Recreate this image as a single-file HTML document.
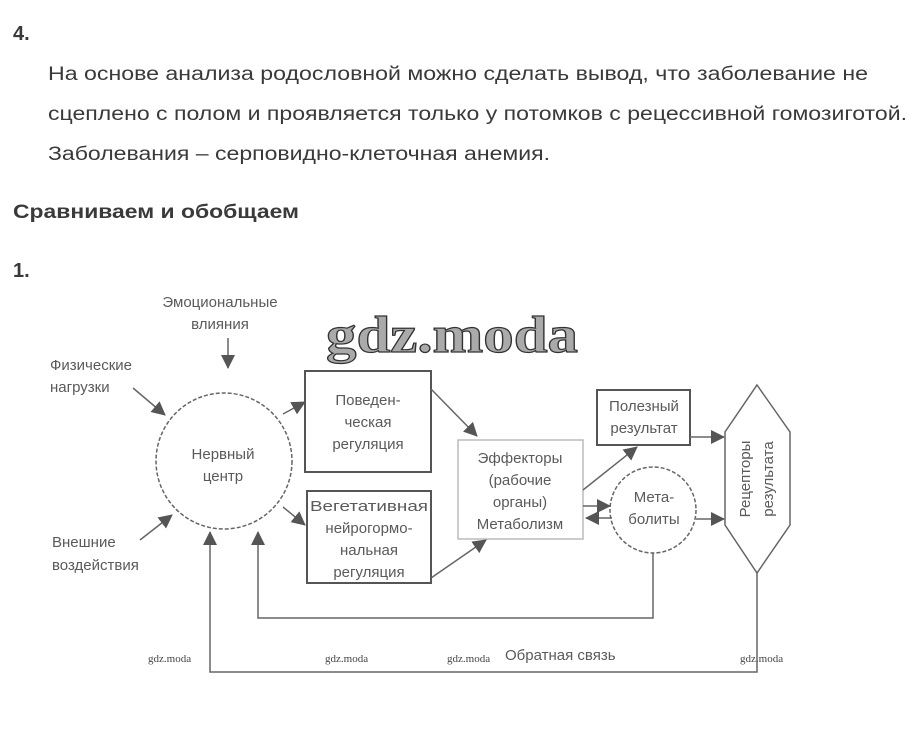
<!DOCTYPE html>
<html><head><meta charset="utf-8"><style>
html,body{margin:0;padding:0;background:#fff;width:912px;height:738px;overflow:hidden}
svg{display:block}
.t{font-family:"Liberation Sans Narrow","Liberation Sans",sans-serif;fill:#3a3a3a}
.d{font-family:"Liberation Sans",sans-serif;fill:#5a5a5a;font-size:15px}
.w{font-family:"Liberation Serif",serif;fill:#444;font-size:11px}
</style></head><body>
<svg width="912" height="738" viewBox="0 0 912 738" xmlns="http://www.w3.org/2000/svg">
<defs><marker id="b" markerWidth="14" markerHeight="14" refX="13" refY="7" orient="auto" markerUnits="userSpaceOnUse"><path d="M0,0 L14,7 L0,14 Z" fill="#555"/></marker></defs>
<text class="t" x="13" y="40" font-size="20" font-weight="bold">4.</text>
<text class="t" x="48" y="80" font-size="19" textLength="820" lengthAdjust="spacingAndGlyphs">На основе анализа родословной можно сделать вывод, что заболевание не</text>
<text class="t" x="48" y="120" font-size="19" textLength="859" lengthAdjust="spacingAndGlyphs">сцеплено с полом и проявляется только у потомков с рецессивной гомозиготой.</text>
<text class="t" x="48" y="160" font-size="19" textLength="502" lengthAdjust="spacingAndGlyphs">Заболевания – серповидно-клеточная анемия.</text>
<text class="t" x="13" y="218" font-size="19" font-weight="bold" textLength="286" lengthAdjust="spacingAndGlyphs">Сравниваем и обобщаем</text>
<text class="t" x="13" y="277" font-size="20" font-weight="bold">1.</text>

<g stroke="#666" stroke-width="1.5" fill="none">
<circle cx="224" cy="461" r="68" stroke-dasharray="4,2"/>
<rect x="305" y="371" width="126" height="101" stroke="#555" stroke-width="2"/>
<rect x="307" y="491" width="124" height="92" stroke="#555" stroke-width="2"/>
<rect x="458" y="440" width="125" height="99" stroke="#bbb"/>
<rect x="597" y="390" width="93" height="55" stroke="#555" stroke-width="2"/>
<circle cx="653" cy="510" r="43" stroke-dasharray="4,2"/>
<polygon points="757,385 790,432 790,525 757,573 725,525 725,432"/>
<polyline points="653,553 653,618 258,618 258,532" marker-end="url(#b)"/>
<polyline points="757,573 757,672 210,672 210,532" marker-end="url(#b)"/>
<line x1="228" y1="338" x2="228" y2="368" marker-end="url(#b)"/>
<line x1="133" y1="388" x2="165" y2="415" marker-end="url(#b)"/>
<line x1="140" y1="540" x2="172" y2="515" marker-end="url(#b)"/>
<line x1="283" y1="414" x2="305" y2="402" marker-end="url(#b)"/>
<line x1="283" y1="507" x2="305" y2="525" marker-end="url(#b)"/>
<line x1="431" y1="389" x2="477" y2="436" marker-end="url(#b)"/>
<line x1="431" y1="578" x2="486" y2="540" marker-end="url(#b)"/>
<line x1="583" y1="490" x2="637" y2="447" marker-end="url(#b)"/>
<line x1="583" y1="506" x2="610" y2="506" marker-end="url(#b)"/>
<line x1="612" y1="518" x2="586" y2="518" marker-end="url(#b)"/>
<line x1="696" y1="519" x2="724" y2="519" marker-end="url(#b)"/>
<line x1="690" y1="437" x2="724" y2="437" marker-end="url(#b)"/>
</g>

<text class="d" text-anchor="middle" x="220" y="307">Эмоциональные</text>
<text class="d" text-anchor="middle" x="220" y="329" font-size="14">влияния</text>
<text class="d" x="50" y="370">Физические</text>
<text class="d" x="50" y="392">нагрузки</text>
<text class="d" x="52" y="547">Внешние</text>
<text class="d" x="52" y="570">воздействия</text>
<text class="d" text-anchor="middle" x="223" y="459">Нервный</text>
<text class="d" text-anchor="middle" x="223" y="481">центр</text>
<text class="d" text-anchor="middle" x="368" y="405">Поведен-</text>
<text class="d" text-anchor="middle" x="368" y="427">ческая</text>
<text class="d" text-anchor="middle" x="368" y="449">регуляция</text>
<text class="d" text-anchor="middle" x="369" y="511" textLength="118" lengthAdjust="spacingAndGlyphs">Вегетативная</text>
<text class="d" text-anchor="middle" x="369" y="533">нейрогормо-</text>
<text class="d" text-anchor="middle" x="369" y="555">нальная</text>
<text class="d" text-anchor="middle" x="369" y="577">регуляция</text>
<text class="d" text-anchor="middle" x="520" y="463">Эффекторы</text>
<text class="d" text-anchor="middle" x="520" y="485">(рабочие</text>
<text class="d" text-anchor="middle" x="520" y="507">органы)</text>
<text class="d" text-anchor="middle" x="520" y="529">Метаболизм</text>
<text class="d" text-anchor="middle" x="644" y="411">Полезный</text>
<text class="d" text-anchor="middle" x="644" y="433">результат</text>
<text class="d" text-anchor="middle" x="654" y="502">Мета-</text>
<text class="d" text-anchor="middle" x="654" y="524">болиты</text>
<text class="d" text-anchor="middle" transform="translate(750,479) rotate(-90)">Рецепторы</text>
<text class="d" text-anchor="middle" transform="translate(773,479) rotate(-90)">результата</text>
<text class="d" x="505" y="660" font-size="16">Обратная связь</text>

<text x="326" y="352" font-family="Liberation Serif,serif" font-weight="bold" font-size="52" fill="#aaa" stroke="#333" stroke-width="1.2" textLength="252" lengthAdjust="spacingAndGlyphs">gdz.moda</text>
<text class="w" x="148" y="662">gdz.moda</text>
<text class="w" x="325" y="662">gdz.moda</text>
<text class="w" x="447" y="662">gdz.moda</text>
<text class="w" x="740" y="662">gdz.moda</text>
</svg>
</body></html>
